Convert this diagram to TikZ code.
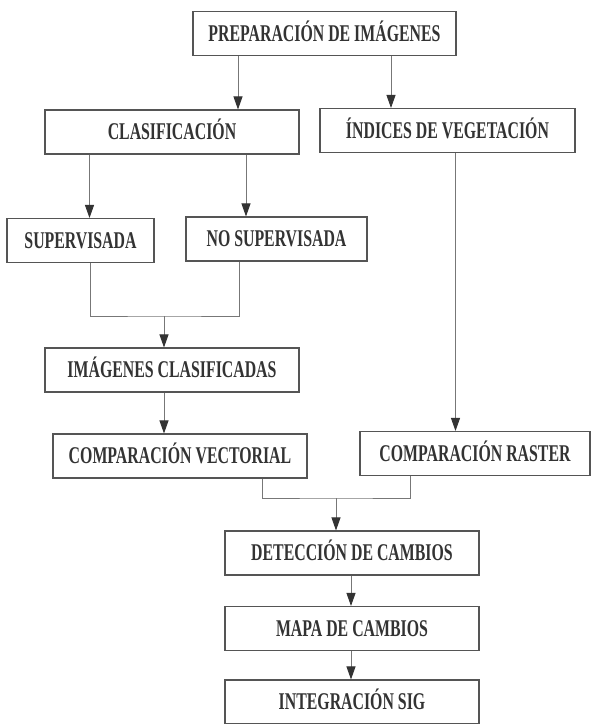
\documentclass[tikz,border=0pt]{standalone}
\usepackage{fontspec}
\setmainfont{Liberation Serif}
\newfontfamily\cajafont[FakeStretch=0.66]{Liberation Serif}
\usetikzlibrary{arrows.meta,calc}
\definecolor{grisTexto}{HTML}{333333}
\definecolor{grisBorde}{HTML}{555555}
\definecolor{grisLinea}{HTML}{777777}
\tikzset{
  caja/.style={draw=grisBorde, line width=1.1pt, fill=white, inner sep=0pt,
    minimum height=44pt, text height=15.9pt, text depth=0pt, text=grisTexto,
    font=\cajafont\bfseries\fontsize{24pt}{26pt}\selectfont},
  conector/.style={draw=grisLinea, line width=0.9pt},
  flecha/.style={conector, -{Triangle[width=9pt,length=13pt,color=grisTexto]}}
}

\begin{document}
\begin{tikzpicture}[x=1pt, y=-1pt]
\useasboundingbox (0,0) rectangle (594,724);

% cajas
\node[caja, minimum width=263pt] (prep) at (324.5,33.5) {PREPARACIÓN DE IMÁGENES};
\node[caja, minimum width=254pt] (clas) at (172,132) {CLASIFICACIÓN};
\node[caja, minimum width=255pt] (indi) at (447.5,130.5) {ÍNDICES DE VEGETACIÓN};
\node[caja, minimum width=147pt] (sup) at (80.5,240.5) {SUPERVISADA};
\node[caja, minimum width=181pt] (nosup) at (276.5,239) {NO SUPERVISADA};
\node[caja, minimum width=254pt] (imgc) at (172,370) {IMÁGENES CLASIFICADAS};
\node[caja, minimum width=254pt] (vect) at (180,456) {COMPARACIÓN VECTORIAL};
\node[caja, minimum width=230pt] (rast) at (475,453.5) {COMPARACIÓN RASTER};
\node[caja, minimum width=254pt] (dete) at (352,553) {DETECCIÓN DE CAMBIOS};
\node[caja, minimum width=254pt] (mapa) at (352,628.5) {MAPA DE CAMBIOS};
\node[caja, minimum width=254pt] (sig) at (352,702) {INTEGRACIÓN SIG};

% uniones
\coordinate (u1) at (164,316);
\coordinate (u2) at (336,498);

% conexiones
\draw[flecha] ([xshift=-86.5pt]prep.south) -- ([xshift=-86.5pt]prep.south |- clas.north);
\draw[flecha] ([xshift=66.5pt]prep.south) -- ([xshift=66.5pt]prep.south |- indi.north);
\draw[flecha] ([xshift=-82.5pt]clas.south) -- ([xshift=-82.5pt]clas.south |- sup.north);
\draw[flecha] ([xshift=74pt]clas.south) -- ([xshift=74pt]clas.south |- nosup.north);
\draw[conector] ([xshift=9.5pt]sup.south) |- (u1) -| ([xshift=-37.5pt]nosup.south);
\draw[flecha] (u1) -- (u1 |- imgc.north);
\draw[flecha] (u1 |- imgc.south) -- (u1 |- vect.north);
\draw[flecha] ([xshift=8pt]indi.south) -- ([xshift=8pt]indi.south |- rast.north);
\draw[conector] ([xshift=82pt]vect.south) |- (u2) -| ([xshift=-65pt]rast.south);
\draw[flecha] (u2) -- (u2 |- dete.north);
\draw[flecha] ([xshift=-1pt]dete.south) -- ([xshift=-1pt]mapa.north);
\draw[flecha] ([xshift=-1pt]mapa.south) -- ([xshift=-1pt]sig.north);
\end{tikzpicture}
\end{document}
